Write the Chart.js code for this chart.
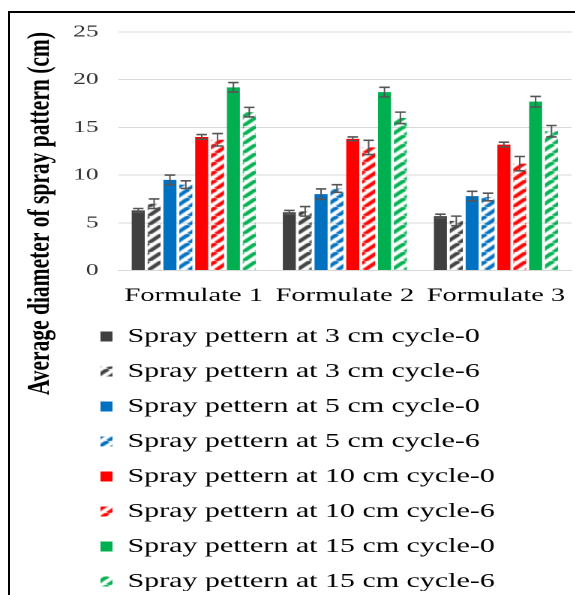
<!DOCTYPE html>
<html>
<head>
<meta charset="utf-8">
<script src="https://cdn.jsdelivr.net/npm/chart.js@4.4.1/dist/chart.umd.min.js"></script>
<style>
  body { margin: 0; background: #fff; overflow: hidden; }
  #wrap { position: absolute; left: 0; top: 0; width: 384px; height: 591px; transform: scaleX(1.5); transform-origin: 0 0; }
  #frame { position: absolute; left: 8px; top: 11px; width: 700px; height: 700px; border-left: 2px solid #000; border-top: 2px solid #000; pointer-events: none; }
</style>
</head>
<body>
<div id="wrap"><canvas id="chart" width="384" height="591"></canvas></div>
<div id="frame"></div>
<script>
const categories = ['Formulate 1', 'Formulate 2', 'Formulate 3']
const yTicks = [0, 5, 10, 15, 20, 25]

// mean diameters (cm)
const cm3cycle0 = [6.3, 6.1, 5.7]
const cm3cycle6 = [7.0, 6.2, 5.2]
const cm5cycle0 = [9.5, 8.0, 7.8]
const cm5cycle6 = [9.0, 8.6, 7.7]
const cm10cycle0 = [14.0, 13.8, 13.2]
const cm10cycle6 = [13.7, 12.9, 11.2]
const cm15cycle0 = [19.2, 18.7, 17.7]
const cm15cycle6 = [16.6, 16.0, 14.6]

// error bars (+/-)
const err3cycle0 = [0.2, 0.2, 0.2]
const err3cycle6 = [0.5, 0.5, 0.5]
const err5cycle0 = [0.5, 0.55, 0.5]
const err5cycle6 = [0.4, 0.4, 0.4]
const err10cycle0 = [0.25, 0.2, 0.25]
const err10cycle6 = [0.65, 0.75, 0.75]
const err15cycle0 = [0.5, 0.5, 0.55]
const err15cycle6 = [0.5, 0.6, 0.6]

const seriesLabels = [
  'Spray pettern at 3 cm cycle-0', 'Spray pettern at 3 cm cycle-6',
  'Spray pettern at 5 cm cycle-0', 'Spray pettern at 5 cm cycle-6',
  'Spray pettern at 10 cm cycle-0', 'Spray pettern at 10 cm cycle-6',
  'Spray pettern at 15 cm cycle-0', 'Spray pettern at 15 cm cycle-6'
]
const seriesValues = [cm3cycle0, cm3cycle6, cm5cycle0, cm5cycle6, cm10cycle0, cm10cycle6, cm15cycle0, cm15cycle6]
const seriesErrors = [err3cycle0, err3cycle6, err5cycle0, err5cycle6, err10cycle0, err10cycle6, err15cycle0, err15cycle6]
const seriesColors = ['#404040', '#404040', '#0070c0', '#0070c0', '#ff0000', '#ff0000', '#00b050', '#00b050']
const seriesHatched = [false, true, false, true, false, true, false, true]

Chart.defaults.font.family = "'Liberation Serif', 'Times New Roman', serif"

function makeHatch(color) {
  const s = 9
  const c = document.createElement('canvas')
  c.width = s
  c.height = s
  const g = c.getContext('2d')
  g.strokeStyle = color
  g.lineWidth = 3.2
  for (let k = -1; k <= 1; k++) {
    g.beginPath()
    g.moveTo(k * s, s)
    g.lineTo(k * s + s, 0)
    g.stroke()
  }
  return g.createPattern(c, 'repeat')
}

const datasets = []
for (let i = 0; i < seriesValues.length; i++) {
  datasets.push({
    label: seriesLabels[i],
    data: seriesValues[i],
    backgroundColor: seriesHatched[i] ? makeHatch(seriesColors[i]) : seriesColors[i],
    borderWidth: 0,
    barPercentage: 0.82,
    categoryPercentage: 0.84
  })
}

const errorBars = {
  id: 'errorBars',
  afterDatasetsDraw(chart) {
    const ctx = chart.ctx
    const yScale = chart.scales.y
    ctx.save()
    ctx.strokeStyle = '#555'
    chart.data.datasets.forEach((ds, i) => {
      const meta = chart.getDatasetMeta(i)
      meta.data.forEach((bar, j) => {
        const v = ds.data[j]
        const e = seriesErrors[i][j]
        const top = yScale.getPixelForValue(v + e)
        const bottom = yScale.getPixelForValue(v - e)
        ctx.lineWidth = 1
        ctx.beginPath()
        ctx.moveTo(bar.x, top)
        ctx.lineTo(bar.x, bottom)
        ctx.stroke()
        ctx.lineWidth = 1.6
        ctx.beginPath()
        ctx.moveTo(bar.x - 3.5, top)
        ctx.lineTo(bar.x + 3.5, top)
        ctx.moveTo(bar.x - 3.5, bottom)
        ctx.lineTo(bar.x + 3.5, bottom)
        ctx.stroke()
      })
    })
    ctx.restore()
  }
}

const legendShift = {
  id: 'legendShift',
  afterLayout(chart) {
    chart.legend.left += 52
    chart.legend.right += 52
  }
}

const myChart = new Chart('chart', {
  type: 'bar',
  data: {
    labels: categories,
    datasets: datasets
  },
  plugins: [errorBars, legendShift],
  options: {
    responsive: false,
    animation: false,
    devicePixelRatio: 2,
    layout: { padding: { top: 32, right: 3, bottom: 0, left: 0 } },
    plugins: {
      tooltip: { enabled: false },
      title: {
        display: true,
        position: 'left',
        align: 'end',
        text: 'Average diameter of spray pattern (cm)',
        color: '#000',
        font: { size: 21.5, weight: 'bold' },
        padding: { top: 14, bottom: 4 }
      },
      legend: {
        position: 'bottom',
        align: 'start',
        labels: {
          color: '#000',
          font: { size: 20 },
          boxWidth: 8,
          boxHeight: 10,
          padding: 15
        }
      }
    },
    scales: {
      x: {
        grid: { display: false },
        border: { color: '#d9d9d9' },
        ticks: { color: '#000', font: { size: 19 }, padding: 6 },
        afterFit: (scale) => { scale.height = 41 }
      },
      y: {
        min: 0,
        max: 25,
        afterBuildTicks: (scale) => { scale.ticks = yTicks.map(v => ({ value: v })) },
        grid: { color: '#d9d9d9', drawTicks: false },
        border: { display: false },
        ticks: { color: '#333', font: { size: 17 }, padding: 13 },
        afterFit: (scale) => { scale.width = 35 }
      }
    }
  }
})
</script>
</body>
</html>
